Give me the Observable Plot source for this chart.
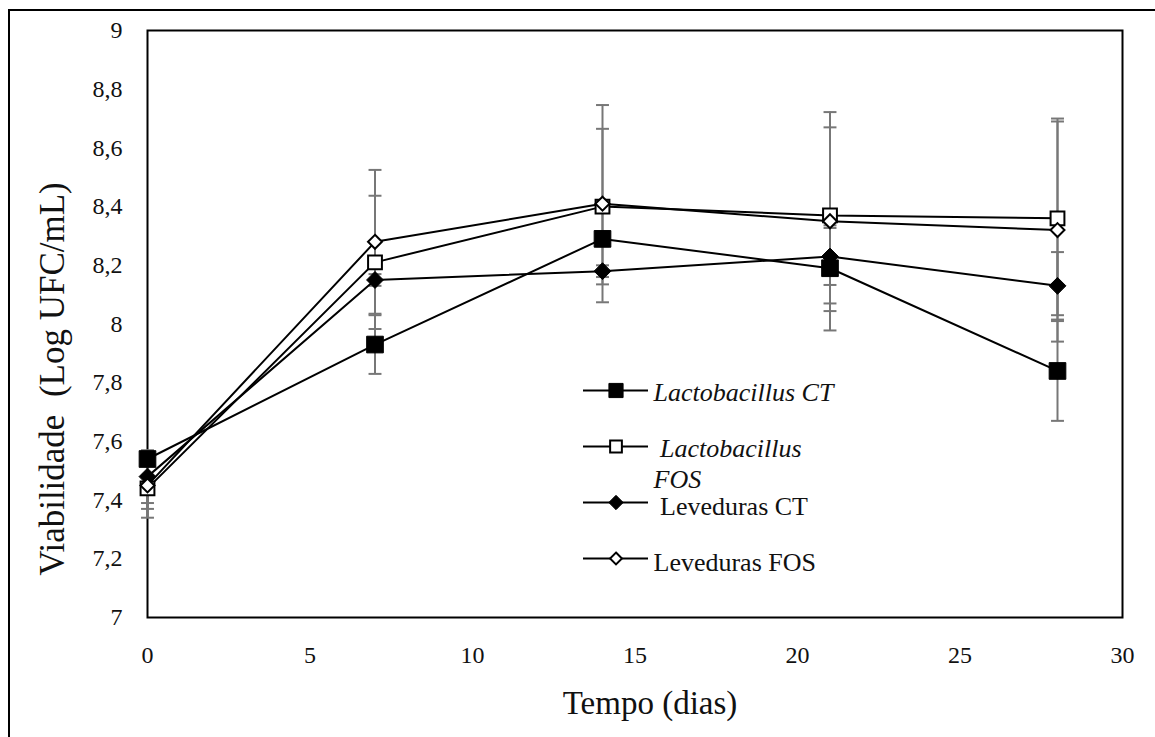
<!DOCTYPE html>
<html>
<head>
<meta charset="utf-8">
<script src="https://cdn.jsdelivr.net/npm/d3@7"></script>
<script src="https://cdn.jsdelivr.net/npm/@observablehq/plot@0.6"></script>
<style>
  html, body { margin: 0; padding: 0; background: #fff; }
  #wrap { position: relative; width: 1155px; height: 737px; overflow: hidden; background: #fff; }
  #border { position: absolute; left: 8px; top: 9px; width: 2000px; height: 2000px;
            border-left: 2px solid #000; border-top: 2px solid #000; }
  #main { position: absolute; left: 0; top: 0; }
  #legend { position: absolute; left: 570px; top: 350px; }
  svg text { font-family: "Liberation Serif", "Times New Roman", serif; }
</style>
</head>
<body>
<div id="wrap"><div id="border"></div><div id="main"></div><div id="legend"></div></div>
<script>
// ---- data ----
const days = [0, 7, 14, 21, 28];
const seriesNames = ["Lactobacillus CT", "Lactobacillus FOS", "Leveduras CT", "Leveduras FOS"];
const legendLabels = ["Lactobacillus CT", "\u00a0Lactobacillus\nFOS", "\u00a0Leveduras CT", "Leveduras FOS"];
const lacCT   = [7.54, 7.93, 8.29, 8.19, 7.84];
const lacFOS  = [7.44, 8.21, 8.40, 8.37, 8.36];
const levCT   = [7.48, 8.15, 8.18, 8.23, 8.13];
const levFOS  = [7.45, 8.28, 8.41, 8.35, 8.32];
const lacCTErr  = [0.02, 0.10, 0.025, 0.146, 0.17];
const lacFOSErr = [0.10, 0.227, 0.265, 0.30, 0.33];
const levCTErr  = [0.09, 0.02, 0.02, 0.097, 0.115];
const levFOSErr = [0.08, 0.245, 0.336, 0.372, 0.38];
const yTicks = [7, 7.2, 7.4, 7.6, 7.8, 8, 8.2, 8.4, 8.6, 8.8, 9];
const yTickLabels = ["7", "7,2", "7,4", "7,6", "7,8", "8", "8,2", "8,4", "8,6", "8,8", "9"];
const xTicks = [0, 5, 10, 15, 20, 25, 30];
const xTickLabels = ["0", "5", "10", "15", "20", "25", "30"];
const xTitle = "Tempo (dias)";
const yTitle = "Viabilidade\u00a0\u00a0(Log UFC/mL)";

// ---- build table ----
const values = [lacCT, lacFOS, levCT, levFOS];
const errors = [lacCTErr, lacFOSErr, levCTErr, levFOSErr];
const rows = [];
seriesNames.forEach((s, k) => days.forEach((d, i) => rows.push({
  series: s, day: d, v: values[k][i], lo: values[k][i] - errors[k][i], hi: values[k][i] + errors[k][i]
})));

// ---- styles (kept in code) ----
const symbolOf = {"Lactobacillus CT": "square", "Lactobacillus FOS": "square", "Leveduras CT": "diamond2", "Leveduras FOS": "diamond2"};
const fillOf = {"Lactobacillus CT": "black", "Lactobacillus FOS": "white", "Leveduras CT": "black", "Leveduras FOS": "white"};
const rOf = {"Lactobacillus CT": 9.4, "Lactobacillus FOS": 7.8, "Leveduras CT": 7.6, "Leveduras FOS": 6.3};
const italicSet = new Set(["Lactobacillus CT", "Lactobacillus FOS"]);
const capSymbol = {draw(ctx, size) { const w = Math.sqrt(size) / 2; ctx.moveTo(-w, 0); ctx.lineTo(w, 0); }};
const FONT = "Liberation Serif, Times New Roman, serif";

const errRows = rows.flatMap(r => [{series: r.series, day: r.day, y: r.lo}, {series: r.series, day: r.day, y: r.hi}]);

const dotMarks = seriesNames.map(s => Plot.dot(rows.filter(r => r.series === s), {
  x: "day", y: "v", symbol: () => symbolOf[s], r: rOf[s], fill: fillOf[s], stroke: "black", strokeWidth: fillOf[s] === "white" ? 2 : 1
}));

const main = Plot.plot({
  width: 1155, height: 737,
  marginLeft: 147, marginTop: 30, marginRight: 33, marginBottom: 120,
  style: {fontFamily: FONT, background: "transparent", color: "black"},
  x: {domain: [0, 30], axis: null},
  y: {domain: [7, 9], axis: null},
  symbol: {type: "identity"},
  marks: [
    Plot.frame({stroke: "black", strokeWidth: 2}),
    Plot.text(yTicks, {y: d => d, text: (d, i) => yTickLabels[i], frameAnchor: "left", textAnchor: "end", dx: -25, fontSize: 24, fontFamily: FONT, fill: "#111"}),
    Plot.text(xTicks, {x: d => d, text: (d, i) => xTickLabels[i], frameAnchor: "bottom", lineAnchor: "middle", dy: 38, fontSize: 24, fontFamily: FONT, fill: "#111"}),
    Plot.ruleX(rows, {x: "day", y1: "lo", y2: "hi", stroke: "#777", strokeWidth: 2}),
    Plot.dot(errRows, {x: "day", y: "y", symbol: () => capSymbol, r: 7.3, stroke: "#777", strokeWidth: 2, fill: "none"}),
    Plot.line(rows, {x: "day", y: "v", z: "series", stroke: "black", strokeWidth: 2}),
    ...dotMarks,
    Plot.text([yTitle], {text: d => d, frameAnchor: "left", textAnchor: "middle", rotate: -90, dx: -95, dy: 55, fontSize: 35, fontFamily: FONT, fill: "#111"}),
    Plot.text([xTitle], {text: d => d, frameAnchor: "bottom", textAnchor: "middle", dx: 15, dy: 96, fontSize: 33, fontFamily: FONT, fill: "#111"})
  ]
});
document.getElementById("main").appendChild(main);

// ---- legend (own small plot) ----
const legendRows = seriesNames.map((s, i) => ({series: s, label: legendLabels[i]}));
const legend = Plot.plot({
  width: 300, height: 240,
  marginLeft: 13, marginRight: 222, marginTop: 39, marginBottom: 31,
  style: {fontFamily: FONT, background: "transparent"},
  x: {domain: [0, 1], axis: null},
  y: {type: "point", domain: seriesNames, padding: 0, axis: null},
  marks: [
    Plot.ruleY(legendRows, {y: "series", stroke: "black", strokeWidth: 2}),
    ...seriesNames.map(s => Plot.dot(legendRows.filter(r => r.series === s), {
      y: "series", frameAnchor: "middle", symbol: () => symbolOf[s], r: rOf[s] * 0.85, fill: fillOf[s], stroke: "black", strokeWidth: fillOf[s] === "white" ? 2 : 1
    })),
    Plot.text(legendRows.filter(r => italicSet.has(r.series)), {y: "series", text: "label", frameAnchor: "right", textAnchor: "start", dx: 5, dy: -11, lineAnchor: "top", lineHeight: 1.18, fontSize: 26, fontStyle: "italic", fontFamily: FONT, fill: "#111"}),
    Plot.text(legendRows.filter(r => !italicSet.has(r.series)), {y: "series", text: "label", frameAnchor: "right", textAnchor: "start", dx: 5, dy: -9, lineAnchor: "top", lineHeight: 1.18, fontSize: 26, fontFamily: FONT, fill: "#111"})
  ]
});
document.getElementById("legend").appendChild(legend);
</script>
</body>
</html>
